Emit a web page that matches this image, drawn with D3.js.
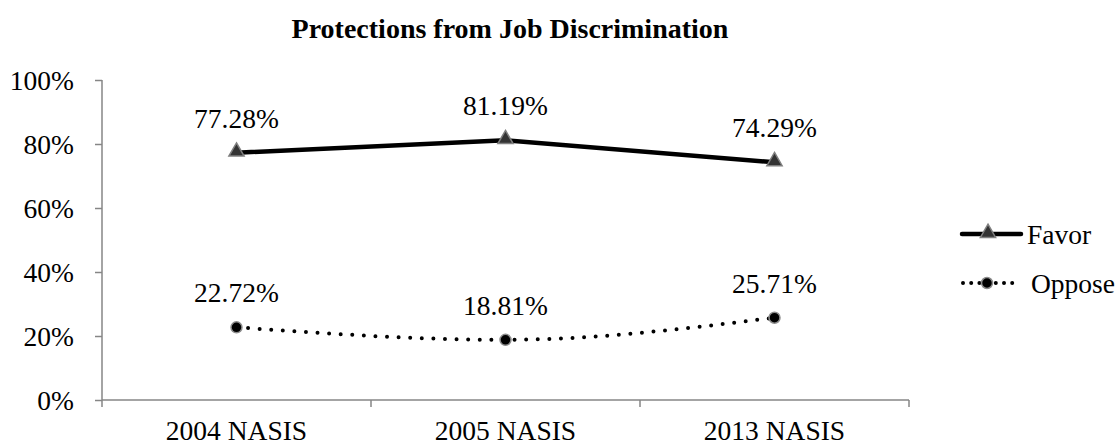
<!DOCTYPE html>
<html>
<head>
<meta charset="utf-8">
<script src="https://cdn.jsdelivr.net/npm/d3@7"></script>
<style>
  body { margin: 0; background: #fff; }
  svg { font-family: "Liberation Serif", "Times New Roman", serif; }
  .axis path, .axis line { stroke: #868686; stroke-width: 1.5; }
  .axis text { font-size: 27.5px; fill: #000; font-family: "Liberation Serif", serif; }
</style>
</head>
<body>
<svg id="chart" width="1119" height="447"></svg>
<script>
const categories = ["2004 NASIS", "2005 NASIS", "2013 NASIS"];
const favor = [77.28, 81.19, 74.29];
const oppose = [22.72, 18.81, 25.71];
const yTicks = [0, 20, 40, 60, 80, 100];
const title = "Protections from Job Discrimination";

const plotLeft = 102, plotRight = 909, plotTop = 80, plotBottom = 400;
const fs = "27.5px";

const svg = d3.select("#chart");

const x = d3.scaleBand().domain(categories).range([plotLeft, plotRight]);
const y = d3.scaleLinear().domain([0, 100]).range([plotBottom, plotTop]);

svg.append("text")
  .attr("x", 510).attr("y", 38)
  .attr("text-anchor", "middle")
  .style("font-size", "28px").style("font-weight", "bold")
  .text(title);

// y axis
const yAxis = svg.append("g").attr("class", "axis")
  .attr("transform", `translate(${plotLeft},0)`)
  .call(d3.axisLeft(y).tickValues(yTicks).tickSize(7).tickPadding(21).tickFormat(d => d + "%"));
yAxis.select(".domain").attr("d", `M0,${plotTop}V${plotBottom + 7}`);
yAxis.selectAll("text").attr("dy", "0.35em");

// x axis, ticks sit on category boundaries
const xAxis = svg.append("g").attr("class", "axis")
  .attr("transform", `translate(0,${plotBottom})`);
xAxis.append("path").attr("class", "domain")
  .attr("d", `M${plotLeft},0H${plotRight}`).attr("fill", "none");
const bounds = categories.map(c => x(c) + x.bandwidth());
xAxis.selectAll("line.tick").data(bounds).join("line")
  .attr("x1", d => d).attr("x2", d => d).attr("y1", 0).attr("y2", 7);
xAxis.selectAll("text").data(categories).join("text")
  .attr("x", d => x(d) + x.bandwidth() / 2).attr("y", 40)
  .attr("text-anchor", "middle")
  .text(d => d);

const cx = (d, i) => x(categories[i]) + x.bandwidth() / 2;
const line = d3.line().x(cx).y(d => y(d));
const curve = d3.line().x(cx).y(d => y(d)).curve(d3.curveMonotoneX);

svg.append("path").datum(favor)
  .attr("d", line).attr("fill", "none")
  .attr("stroke", "#000").attr("stroke-width", 4.5);

svg.append("path").datum(oppose)
  .attr("d", curve).attr("fill", "none")
  .attr("stroke", "#000").attr("stroke-width", 4)
  .attr("stroke-linecap", "round").attr("stroke-dasharray", "0 11.6");

const tri = d3.symbol().type(d3.symbolTriangle).size(100);
svg.selectAll(".fm").data(favor).join("path")
  .attr("d", tri)
  .attr("transform", (d, i) => `translate(${cx(d, i)},${y(d) - 1})`)
  .attr("fill", "#333").attr("stroke", "#7f7f7f").attr("stroke-width", 1.5);

svg.selectAll(".om").data(oppose).join("circle")
  .attr("cx", cx).attr("cy", d => y(d)).attr("r", 5.5)
  .attr("fill", "#000").attr("stroke", "#8c8c8c").attr("stroke-width", 1.5);

const labels = favor.map((d, i) => ({ v: d, i })).concat(oppose.map((d, i) => ({ v: d, i })));
svg.selectAll(".lbl").data(labels).join("text")
  .attr("x", d => cx(d.v, d.i)).attr("y", d => y(d.v) - 25)
  .attr("text-anchor", "middle").style("font-size", fs)
  .text(d => d.v.toFixed(2) + "%");

// legend
const lg = svg.append("g");
lg.append("line").attr("x1", 962).attr("x2", 1021).attr("y1", 234).attr("y2", 234)
  .attr("stroke", "#000").attr("stroke-width", 4.5).attr("stroke-linecap", "round");
lg.append("path").attr("d", tri).attr("transform", "translate(988,233)")
  .attr("fill", "#333").attr("stroke", "#7f7f7f").attr("stroke-width", 1.5);
lg.append("text").attr("x", 1027).attr("y", 244).style("font-size", fs).text("Favor");

lg.append("line").attr("x1", 963).attr("x2", 1013).attr("y1", 283).attr("y2", 283)
  .attr("stroke", "#000").attr("stroke-width", 4)
  .attr("stroke-linecap", "round").attr("stroke-dasharray", "0 8.2");
lg.append("circle").attr("cx", 987).attr("cy", 283).attr("r", 5.5)
  .attr("fill", "#000").attr("stroke", "#8c8c8c").attr("stroke-width", 1.5);
lg.append("text").attr("x", 1031).attr("y", 293).style("font-size", fs).text("Oppose");
</script>
</body>
</html>
